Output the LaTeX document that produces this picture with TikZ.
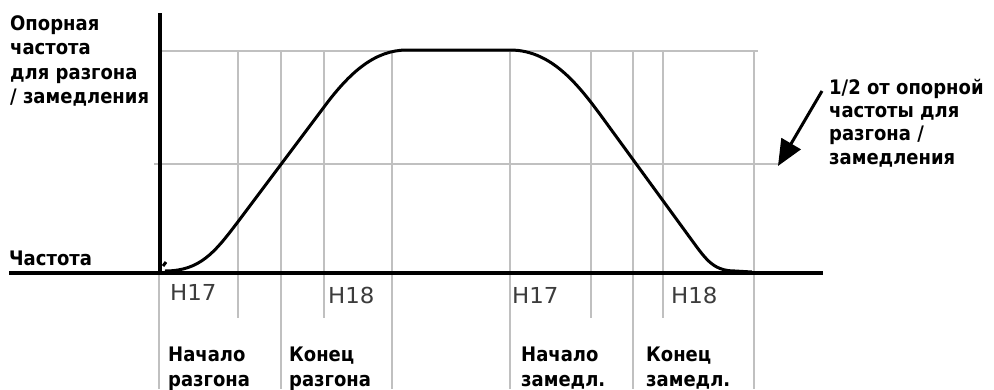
\documentclass[tikz,border=0pt]{standalone}
\usepackage{fontspec}
\setmainfont{DejaVu Sans}
\newfontfamily\lblfont[FakeStretch=0.9]{DejaVu Sans Bold}
\newfontfamily\hfont[FakeStretch=1.04]{DejaVu Sans}
\usetikzlibrary{arrows.meta}
\definecolor{gridgray}{RGB}{192,192,192}
\definecolor{hgray}{RGB}{60,60,60}
\begin{document}
\begin{tikzpicture}[x=1pt,y=-1pt,
  gridline/.style={draw=gridgray,line width=2.6pt},
  axisline/.style={draw=black,line width=4.5pt},
  curveline/.style={draw=black,line width=3pt,line join=round},
  lbl/.style={anchor=base west,inner sep=0pt,font=\lblfont\fontsize{20}{24}\selectfont},
  hlbl/.style={anchor=base west,inner sep=0pt,text=hgray,font=\hfont\fontsize{22}{26}\selectfont}]
\useasboundingbox[fill=white] (0,0) rectangle (994,389);
% grid lines
\draw[gridline] (162,51) -- (758,51);
\draw[gridline] (154,164) -- (779,164);
\foreach \x in {238,324,591,663} \draw[gridline] (\x,51) -- (\x,318);
\foreach \x in {281,392,510,633,754} \draw[gridline] (\x,51) -- (\x,389);
\draw[gridline] (159,273) -- (159,389);
% axes
\draw[axisline] (160,13) -- (160,273);
\draw[axisline] (9,273) -- (823,273);
% curve
\draw[curveline] (163,266) -- (166,262);
\draw[curveline] (165,271) .. controls (200,271) and (215,252) .. (237,223) -- (324,107)
  .. controls (350,72) and (375,50) .. (407,50) -- (510,50)
  .. controls (555,50) and (583,91) .. (610,128) -- (688,235)
  .. controls (705,258) and (712,271) .. (735,271) -- (752,272);
% left labels
\node[lbl] (ref1) at (10,30) {Опорная};
\node[lbl] (ref2) at (10,54) {частота};
\node[lbl] (ref3) at (10,79) {для разгона};
\node[lbl] (ref4) at (10,103) {/ замедления};
\node[lbl] (freq) at (9,265) {Частота};
% H labels
\node[hlbl] (h17a) at (170,300) {H17};
\node[hlbl] (h18a) at (328,303) {H18};
\node[hlbl] (h17b) at (512,303) {H17};
\node[hlbl] (h18b) at (671,303) {H18};
% bottom labels
\node[lbl] (b1a) at (168,361) {Начало};
\node[lbl] (b1b) at (168,386) {разгона};
\node[lbl] (b2a) at (289,361) {Конец};
\node[lbl] (b2b) at (289,386) {разгона};
\node[lbl] (b3a) at (521,361) {Начало};
\node[lbl] (b3b) at (521,386) {замедл.};
\node[lbl] (b4a) at (646,361) {Конец};
\node[lbl] (b4b) at (646,386) {замедл.};
% right label and arrow
\node[lbl] (half1) at (829,94) {1/2 от опорной};
\node[lbl] (half2) at (829,117) {частоты для};
\node[lbl] (half3) at (829,140) {разгона /};
\node[lbl] (half4) at (829,164) {замедления};
\coordinate (astart) at (822,91);
\coordinate (atip) at (778,166);
\draw[line width=3pt,-{Triangle[length=26pt,width=22pt]}] (astart) -- (atip);
\end{tikzpicture}
\end{document}
